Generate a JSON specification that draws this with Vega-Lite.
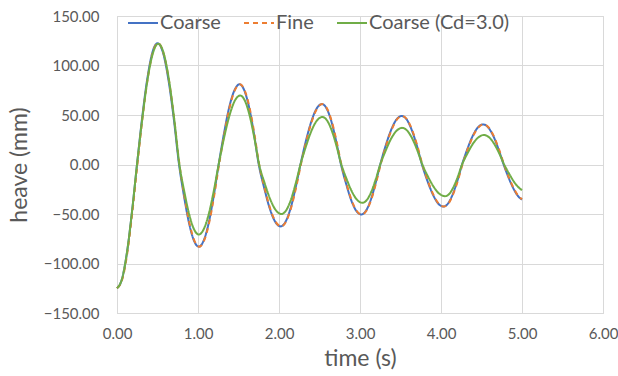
{
  "$schema": "https://vega.github.io/schema/vega-lite/v6.json",
  "width": 486,
  "height": 297,
  "autosize": "none",
  "padding": {"left": 117, "top": 16, "right": 15, "bottom": 63},
  "background": "white",
  "config": {
    "font": "Lato",
    "view": {"stroke": "#D9D9D9", "strokeWidth": 1},
    "axis": {
      "labelFont": "Lato", "titleFont": "Lato",
      "labelColor": "#595959", "titleColor": "#595959",
      "labelFontSize": 15, "titleFontSize": 23, "titleFontWeight": "normal",
      "gridColor": "#D9D9D9", "gridWidth": 1, "labelFlush": false,
      "domainColor": "#D9D9D9", "ticks": false
    },
    "legend": {
      "labelFont": "Lato", "labelFontSize": 20, "labelColor": "#595959"
    }
  },
  "datasets": {
    "coarse": [
      {"t":0,"h":-125},{"t":0.062,"h":-115.5},{"t":0.124,"h":-88.4},{"t":0.185,"h":-47.9},{"t":0.247,"h":0},
      {"t":0.31,"h":46.9},{"t":0.374,"h":86.6},{"t":0.437,"h":113.2},{"t":0.5,"h":122.5},
      {"t":0.567,"h":113.2},{"t":0.633,"h":86.6},{"t":0.7,"h":46.9},{"t":0.766,"h":0},
      {"t":0.827,"h":-31.8},{"t":0.888,"h":-58.7},{"t":0.949,"h":-76.7},{"t":1.01,"h":-83},
      {"t":1.071,"h":-76.7},{"t":1.133,"h":-58.7},{"t":1.194,"h":-31.8},{"t":1.255,"h":0},
      {"t":1.32,"h":31},{"t":1.384,"h":57.3},{"t":1.449,"h":74.8},{"t":1.513,"h":81},
      {"t":1.572,"h":74.8},{"t":1.632,"h":57.3},{"t":1.691,"h":31},{"t":1.75,"h":0},
      {"t":1.818,"h":-23.9},{"t":1.885,"h":-44.2},{"t":1.953,"h":-57.8},{"t":2.02,"h":-62.5},
      {"t":2.081,"h":-57.8},{"t":2.143,"h":-44.2},{"t":2.204,"h":-23.9},{"t":2.265,"h":0},
      {"t":2.331,"h":23.4},{"t":2.398,"h":43.1},{"t":2.464,"h":56.4},{"t":2.53,"h":61},
      {"t":2.589,"h":56.4},{"t":2.648,"h":43.1},{"t":2.706,"h":23.4},{"t":2.765,"h":0},
      {"t":2.828,"h":-19.3},{"t":2.89,"h":-35.7},{"t":2.953,"h":-46.7},{"t":3.015,"h":-50.5},
      {"t":3.074,"h":-46.7},{"t":3.133,"h":-35.7},{"t":3.191,"h":-19.3},{"t":3.25,"h":0},
      {"t":3.316,"h":18.8},{"t":3.383,"h":34.6},{"t":3.449,"h":45.3},{"t":3.515,"h":49},
      {"t":3.578,"h":45.3},{"t":3.64,"h":34.6},{"t":3.703,"h":18.8},{"t":3.765,"h":0},
      {"t":3.831,"h":-16.3},{"t":3.898,"h":-30},{"t":3.964,"h":-39.3},{"t":4.03,"h":-42.5},
      {"t":4.088,"h":-39.3},{"t":4.145,"h":-30},{"t":4.203,"h":-16.3},{"t":4.26,"h":0},
      {"t":4.325,"h":15.5},{"t":4.39,"h":28.6},{"t":4.455,"h":37.4},{"t":4.52,"h":40.5},
      {"t":4.583,"h":37.4},{"t":4.647,"h":28.6},{"t":4.71,"h":15.5},{"t":4.773,"h":0},
      {"t":4.837,"h":-13.8},{"t":4.902,"h":-25.5},{"t":4.966,"h":-33.3},{"t":5,"h":-35.4}
    ],
    "fine": [
      {"t":0,"h":-125},{"t":0.067,"h":-115.5},{"t":0.129,"h":-88.4},{"t":0.19,"h":-47.9},{"t":0.252,"h":0},
      {"t":0.315,"h":46.9},{"t":0.379,"h":86.6},{"t":0.442,"h":113.2},{"t":0.505,"h":122.5},
      {"t":0.572,"h":113.2},{"t":0.638,"h":86.6},{"t":0.705,"h":46.9},{"t":0.771,"h":0},
      {"t":0.832,"h":-31.8},{"t":0.893,"h":-58.7},{"t":0.954,"h":-76.7},{"t":1.015,"h":-83},
      {"t":1.076,"h":-76.7},{"t":1.138,"h":-58.7},{"t":1.199,"h":-31.8},{"t":1.26,"h":0},
      {"t":1.325,"h":31},{"t":1.389,"h":57.3},{"t":1.454,"h":74.8},{"t":1.518,"h":81},
      {"t":1.577,"h":74.8},{"t":1.637,"h":57.3},{"t":1.696,"h":31},{"t":1.755,"h":0},
      {"t":1.823,"h":-23.9},{"t":1.89,"h":-44.2},{"t":1.958,"h":-57.8},{"t":2.025,"h":-62.5},
      {"t":2.086,"h":-57.8},{"t":2.148,"h":-44.2},{"t":2.209,"h":-23.9},{"t":2.27,"h":0},
      {"t":2.336,"h":23.4},{"t":2.403,"h":43.1},{"t":2.469,"h":56.4},{"t":2.535,"h":61},
      {"t":2.594,"h":56.4},{"t":2.653,"h":43.1},{"t":2.711,"h":23.4},{"t":2.77,"h":0},
      {"t":2.833,"h":-19.3},{"t":2.895,"h":-35.7},{"t":2.958,"h":-46.7},{"t":3.02,"h":-50.5},
      {"t":3.079,"h":-46.7},{"t":3.138,"h":-35.7},{"t":3.196,"h":-19.3},{"t":3.255,"h":0},
      {"t":3.321,"h":18.8},{"t":3.388,"h":34.6},{"t":3.454,"h":45.3},{"t":3.52,"h":49},
      {"t":3.583,"h":45.3},{"t":3.645,"h":34.6},{"t":3.708,"h":18.8},{"t":3.77,"h":0},
      {"t":3.836,"h":-16.3},{"t":3.903,"h":-30},{"t":3.969,"h":-39.3},{"t":4.035,"h":-42.5},
      {"t":4.093,"h":-39.3},{"t":4.15,"h":-30},{"t":4.208,"h":-16.3},{"t":4.265,"h":0},
      {"t":4.33,"h":15.5},{"t":4.395,"h":28.6},{"t":4.46,"h":37.4},{"t":4.525,"h":40.5},
      {"t":4.588,"h":37.4},{"t":4.652,"h":28.6},{"t":4.715,"h":15.5},{"t":4.778,"h":0},
      {"t":4.842,"h":-13.8},{"t":4.907,"h":-25.5},{"t":4.971,"h":-33.3},{"t":5,"h":-35.1}
    ],
    "cd3": [
      {"t":0,"h":-125},{"t":0.062,"h":-115.5},{"t":0.124,"h":-88.4},{"t":0.185,"h":-47.9},{"t":0.247,"h":0},
      {"t":0.313,"h":46.7},{"t":0.378,"h":86.3},{"t":0.444,"h":112.7},{"t":0.51,"h":122},
      {"t":0.575,"h":112.7},{"t":0.64,"h":86.3},{"t":0.705,"h":46.7},{"t":0.77,"h":0},
      {"t":0.83,"h":-27.1},{"t":0.89,"h":-50},{"t":0.95,"h":-65.3},{"t":1.01,"h":-70.7},
      {"t":1.071,"h":-65.3},{"t":1.133,"h":-50},{"t":1.194,"h":-27.1},{"t":1.255,"h":0},
      {"t":1.321,"h":26.7},{"t":1.388,"h":49.3},{"t":1.454,"h":64.4},{"t":1.52,"h":69.7},
      {"t":1.579,"h":64.4},{"t":1.638,"h":49.3},{"t":1.696,"h":26.7},{"t":1.755,"h":0},
      {"t":1.824,"h":-19.2},{"t":1.893,"h":-35.4},{"t":1.961,"h":-46.2},{"t":2.03,"h":-50},
      {"t":2.089,"h":-46.2},{"t":2.148,"h":-35.4},{"t":2.206,"h":-19.2},{"t":2.265,"h":0},
      {"t":2.333,"h":18.4},{"t":2.4,"h":33.9},{"t":2.468,"h":44.4},{"t":2.535,"h":48},
      {"t":2.594,"h":44.4},{"t":2.653,"h":33.9},{"t":2.711,"h":18.4},{"t":2.77,"h":0},
      {"t":2.835,"h":-14.8},{"t":2.9,"h":-27.4},{"t":2.965,"h":-35.8},{"t":3.03,"h":-38.7},
      {"t":3.085,"h":-35.8},{"t":3.14,"h":-27.4},{"t":3.195,"h":-14.8},{"t":3.25,"h":0},
      {"t":3.318,"h":14.2},{"t":3.385,"h":26.2},{"t":3.453,"h":34.2},{"t":3.52,"h":37},
      {"t":3.583,"h":34.2},{"t":3.645,"h":26.2},{"t":3.708,"h":14.2},{"t":3.77,"h":0},
      {"t":3.84,"h":-12.3},{"t":3.91,"h":-22.6},{"t":3.98,"h":-29.6},{"t":4.05,"h":-32},
      {"t":4.103,"h":-29.6},{"t":4.155,"h":-22.6},{"t":4.208,"h":-12.3},{"t":4.26,"h":0},
      {"t":4.328,"h":11.4},{"t":4.395,"h":21.1},{"t":4.463,"h":27.5},{"t":4.53,"h":29.8},
      {"t":4.593,"h":27.5},{"t":4.655,"h":21.1},{"t":4.718,"h":11.4},{"t":4.78,"h":0},
      {"t":4.848,"h":-10.3},{"t":4.915,"h":-19.1},{"t":4.983,"h":-24.9},{"t":5,"h":-25.9}
    ]
  },
  "encoding": {
    "x": {
      "field": "t", "type": "quantitative",
      "scale": {"domain": [0, 6], "nice": false, "zero": false},
      "axis": {"values": [0,1,2,3,4,5,6], "format": ".2f", "title": "time (s)", "labelPadding": 13, "titlePadding": 6, "grid": true}
    },
    "y": {
      "field": "h", "type": "quantitative",
      "scale": {"domain": [-150, 150], "nice": false},
      "axis": {"values": [-150,-100,-50,0,50,100,150], "format": ".2f", "title": "heave (mm)", "labelPadding": 18, "titlePadding": 12, "grid": true}
    },
    "color": {
      "field": "s", "type": "nominal",
      "scale": {"domain": ["Coarse", "Fine", "Coarse (Cd=3.0)"], "range": ["#4472C4", "#ED7D31", "#70AD47"]},
      "legend": {
        "title": null, "orient": "none", "direction": "horizontal",
        "legendX": 10, "legendY": -9,
        "symbolType": "stroke", "symbolSize": 900, "symbolStrokeWidth": 2,
        "labelOffset": 1, "columnPadding": 19, "padding": 0
      }
    },
    "strokeDash": {
      "field": "s", "type": "nominal",
      "scale": {"domain": ["Coarse", "Fine", "Coarse (Cd=3.0)"], "range": [[1, 0], [5, 4], [1, 0]]},
      "legend": null
    }
  },
  "layer": [
    {
      "data": {"name": "coarse"},
      "mark": {"type": "line", "strokeWidth": 2, "interpolate": "monotone"},
      "encoding": {"color": {"datum": "Coarse", "type": "nominal"}, "strokeDash": {"datum": "Coarse", "type": "nominal"}}
    },
    {
      "data": {"name": "fine"},
      "mark": {"type": "line", "strokeWidth": 2, "interpolate": "monotone"},
      "encoding": {"color": {"datum": "Fine", "type": "nominal"}, "strokeDash": {"datum": "Fine", "type": "nominal"}}
    },
    {
      "data": {"name": "cd3"},
      "mark": {"type": "line", "strokeWidth": 2, "interpolate": "monotone"},
      "encoding": {"color": {"datum": "Coarse (Cd=3.0)", "type": "nominal"}, "strokeDash": {"datum": "Coarse (Cd=3.0)", "type": "nominal"}}
    }
  ]
}
